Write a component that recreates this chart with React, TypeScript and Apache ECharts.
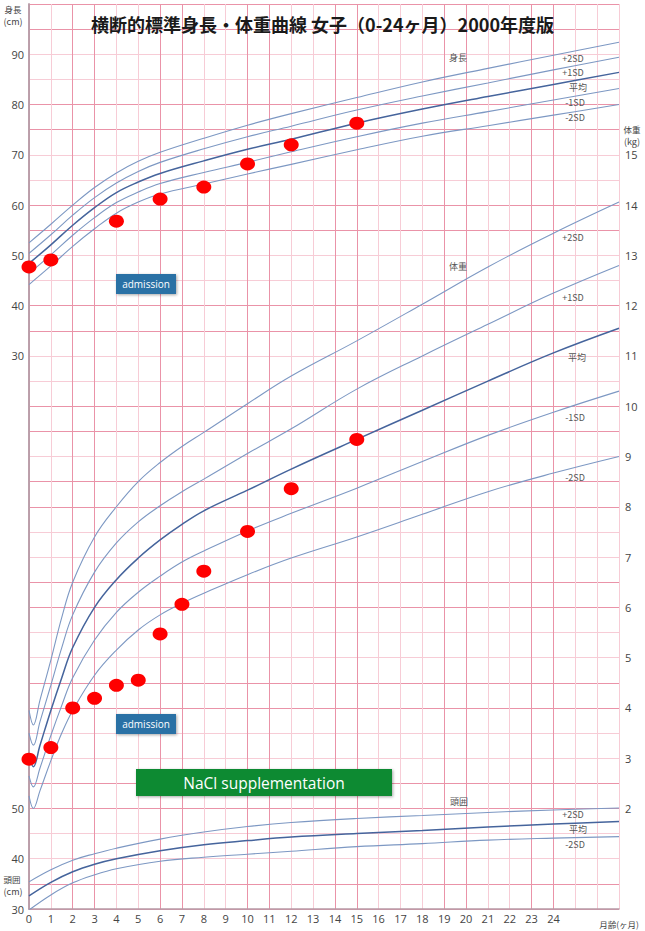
import React, { useEffect, useRef } from 'react';
import * as echarts from 'echarts';

// ---- data ----
const monthTicks = [0, 1, 2, 3, 4, 5, 6, 7, 8, 9, 10, 11, 12, 13, 14, 15, 16, 17, 18, 19, 20, 21, 22, 23, 24];

const heightMonths = [0, 1, 2, 3, 4, 5, 6, 8, 10, 12, 15, 18, 21, 24, 27];
const heightP2 = [52.5, 56.2, 60.0, 63.5, 66.4, 68.7, 70.5, 73.3, 75.9, 78.2, 81.4, 84.5, 87.2, 89.8, 92.4];
const heightP1 = [50.4, 54.1, 58.0, 61.5, 64.4, 66.7, 68.5, 71.2, 73.6, 75.7, 78.9, 81.7, 84.3, 86.9, 89.4];
const heightMean = [48.4, 52.1, 56.0, 59.5, 62.5, 64.6, 66.3, 68.8, 71.1, 73.1, 76.3, 79.1, 81.6, 84.0, 86.4];
const heightM1 = [46.4, 50.1, 54.0, 57.5, 60.5, 62.6, 64.3, 66.5, 68.5, 70.6, 73.6, 76.3, 78.6, 80.9, 83.2];
const heightM2 = [44.2, 47.9, 51.8, 55.3, 58.4, 60.6, 62.2, 64.2, 66.2, 68.1, 71.0, 73.7, 75.8, 77.9, 80.0];

const weightMonths = [0, 0.2, 0.5, 1, 1.5, 2, 3, 4, 5, 6, 7, 8, 10, 12, 15, 18, 21, 24, 27];
const weightP2 = [3.95, 3.66, 4.15, 4.95, 5.8, 6.5, 7.4, 8.0, 8.5, 8.88, 9.2, 9.48, 10.05, 10.6, 11.3, 12.03, 12.77, 13.44, 14.06];
const weightP1 = [3.5, 3.26, 3.72, 4.45, 5.2, 5.85, 6.7, 7.28, 7.7, 8.02, 8.3, 8.55, 9.06, 9.55, 10.34, 11.0, 11.63, 12.25, 12.8];
const weightMean = [3.05, 2.83, 3.25, 3.95, 4.6, 5.2, 6.0, 6.55, 6.98, 7.34, 7.65, 7.92, 8.33, 8.75, 9.34, 9.92, 10.5, 11.06, 11.55];
const weightM1 = [2.65, 2.43, 2.8, 3.45, 4.05, 4.6, 5.35, 5.9, 6.3, 6.62, 6.9, 7.12, 7.52, 7.87, 8.37, 8.9, 9.42, 9.88, 10.3];
const weightM2 = [2.25, 2.0, 2.35, 2.95, 3.5, 3.95, 4.65, 5.15, 5.55, 5.85, 6.08, 6.28, 6.65, 6.98, 7.4, 7.85, 8.3, 8.67, 9.0];

const headMonths = [0, 1, 2, 3, 4, 6, 8, 10, 12, 15, 18, 21, 24, 27];
const headP2 = [35.4, 37.8, 39.7, 41.0, 42.1, 43.9, 45.3, 46.4, 47.2, 48.0, 48.6, 49.2, 49.7, 50.1];
const headMean = [32.6, 35.3, 37.4, 38.9, 40.0, 41.6, 42.8, 43.6, 44.3, 45.0, 45.6, 46.3, 46.9, 47.4];
const headM2 = [29.8, 32.8, 35.2, 36.8, 38.0, 39.5, 40.3, 40.9, 41.5, 42.4, 43.0, 43.7, 44.1, 44.4];

const patientHeightMonths = [0, 1, 4, 6, 8, 10, 12, 15];
const patientHeight = [47.7, 49.1, 56.8, 61.2, 63.6, 68.2, 72.0, 76.3];
const patientWeightMonths = [0, 1, 2, 3, 4, 5, 6, 7, 8, 10, 12, 15];
const patientWeight = [2.98, 3.21, 4.0, 4.19, 4.45, 4.55, 5.47, 6.06, 6.72, 7.51, 8.36, 9.34];

const heightTickLabels = [30, 40, 50, 60, 70, 80, 90];
const weightTickLabels = [2, 3, 4, 5, 6, 7, 8, 9, 10, 11, 12, 13, 14, 15];
const headTickLabels = [30, 40, 50];

// ---- styles ----
const GRID_DARK = '#ea93a8';
const GRID_LIGHT = '#f7ccd6';
const CURVE = '#7d98c3';
const CURVE_MEAN = '#45649c';
const AXIS_LINE = '#b79aa6';
const JP = '"Noto Sans CJK JP", "Noto Sans", sans-serif';
const NUM = '"Open Sans", "Noto Sans", sans-serif';

const zip = (xs: number[], ys: number[]) => xs.map((x, i) => [x, ys[i]]);

const darkMonths = [2, 3, 6, 7, 10, 11, 14, 15, 19, 20, 23, 24];
const xLineColors: string[] = [];
for (let m = 0; m <= 27; m++) xLineColors.push(darkMonths.includes(m) ? GRID_DARK : GRID_LIGHT);
const yLineColors: string[] = [];
for (let k = 0; k <= 36; k++) {
  const r = k % 4;
  const dark = k <= 17 ? r === 0 || r === 1 : r === 3 || r === 0;
  yLineColors.push(dark ? GRID_DARK : GRID_LIGHT);
}

function curve(name: string, xs: number[], ys: number[], yAxisIndex: number, mean = false) {
  return {
    name,
    type: 'line',
    xAxisIndex: 0,
    yAxisIndex,
    data: zip(xs, ys),
    showSymbol: false,
    smooth: 0.4,
    silent: true,
    z: 3,
    lineStyle: { color: mean ? CURVE_MEAN : CURVE, width: mean ? 1.5 : 1.1 },
  };
}

function label(x: number, y: number, text: string, size = 9, color = '#555', font = JP, align = 'center') {
  return {
    type: 'text',
    x,
    y,
    z: 10,
    style: { text, fontSize: size, fontFamily: font, fill: color, align, verticalAlign: 'middle' },
  };
}

export default function App() {
  const ref = useRef<HTMLDivElement>(null);
  useEffect(() => {
    if (!ref.current) return;
    const chart = echarts.init(ref.current, undefined, { renderer: 'svg' });
    const option: any = {
      animation: false,
      backgroundColor: '#ffffff',
      title: {
        text: '横断的標準身長・体重曲線 女子（0-24ヶ月）2000年度版',
        left: 'center',
        top: 10,
        textStyle: { fontSize: 18, fontWeight: 'bold', fontFamily: JP, color: '#1a1a1a' },
      },
      grid: { left: 29, right: 26, top: 4, bottom: 22, containLabel: false },
      xAxis: {
        type: 'value',
        min: 0,
        max: 27,
        interval: 1,
        axisLine: { show: true, lineStyle: { color: AXIS_LINE, width: 1.5 } },
        axisTick: { show: false },
        axisLabel: {
          margin: 4,
          fontSize: 11,
          fontFamily: NUM,
          color: '#444',
          formatter: (v: number) => (monthTicks.includes(v) ? String(v) : ''),
        },
        splitLine: { show: true, lineStyle: { color: xLineColors, width: 1 } },
      },
      yAxis: [
        {
          type: 'value',
          position: 'right',
          min: 0,
          max: 18,
          interval: 1,
          axisLine: { show: true, lineStyle: { color: AXIS_LINE, width: 1.5 } },
          axisTick: { show: false },
          splitLine: { show: false },
          axisLabel: {
            margin: 6,
            fontSize: 11,
            fontFamily: NUM,
            color: '#444',
            formatter: (v: number) => (weightTickLabels.includes(v) ? String(v) : ''),
          },
        },
        {
          type: 'value',
          position: 'left',
          min: -80,
          max: 100,
          interval: 10,
          axisLine: { show: true, lineStyle: { color: AXIS_LINE, width: 1.5 } },
          axisTick: { show: false },
          splitLine: { show: false },
          axisLabel: {
            margin: 5,
            fontSize: 11,
            fontFamily: NUM,
            color: '#444',
            formatter: (v: number) => (heightTickLabels.includes(v) ? String(v) : ''),
          },
        },
        {
          type: 'value',
          position: 'left',
          min: 30,
          max: 210,
          interval: 10,
          axisLine: { show: false },
          axisTick: { show: false },
          splitLine: { show: false },
          axisLabel: {
            margin: 5,
            fontSize: 11,
            fontFamily: NUM,
            color: '#444',
            formatter: (v: number) => (headTickLabels.includes(v) ? String(v) : ''),
          },
        },
        {
          type: 'value',
          position: 'left',
          min: 0,
          max: 18,
          interval: 0.5,
          axisLine: { show: false },
          axisTick: { show: false },
          axisLabel: { show: false },
          splitLine: { show: true, lineStyle: { color: yLineColors, width: 1 } },
        },
      ],
      series: [
        curve('身長 +2SD', heightMonths, heightP2, 1),
        curve('身長 +1SD', heightMonths, heightP1, 1),
        curve('身長 平均', heightMonths, heightMean, 1, true),
        curve('身長 -1SD', heightMonths, heightM1, 1),
        curve('身長 -2SD', heightMonths, heightM2, 1),
        curve('体重 +2SD', weightMonths, weightP2, 0),
        curve('体重 +1SD', weightMonths, weightP1, 0),
        curve('体重 平均', weightMonths, weightMean, 0, true),
        curve('体重 -1SD', weightMonths, weightM1, 0),
        curve('体重 -2SD', weightMonths, weightM2, 0),
        curve('頭囲 +2SD', headMonths, headP2, 2),
        curve('頭囲 平均', headMonths, headMean, 2, true),
        curve('頭囲 -2SD', headMonths, headM2, 2),
        {
          name: 'patient height',
          type: 'scatter',
          xAxisIndex: 0,
          yAxisIndex: 1,
          data: zip(patientHeightMonths, patientHeight),
          symbol: 'circle',
          symbolSize: [15, 13],
          itemStyle: { color: '#ff0000', opacity: 1 },
          z: 5,
        },
        {
          name: 'patient weight',
          type: 'scatter',
          xAxisIndex: 0,
          yAxisIndex: 0,
          data: zip(patientWeightMonths, patientWeight),
          symbol: 'circle',
          symbolSize: [15, 13],
          itemStyle: { color: '#ff0000', opacity: 1 },
          z: 5,
        },
      ],
      graphic: [
        label(13, 9, '身長', 8.5, '#444'),
        label(13, 21, '(cm)', 9, '#444'),
        label(632, 129, '体重', 8.5, '#444'),
        label(632, 141, '(kg)', 9, '#444'),
        label(12, 879, '頭囲', 8.5, '#444'),
        label(13, 891, '(cm)', 9, '#444'),
        label(619, 924, '月齢(ヶ月)', 8.5, '#444'),
        label(458, 57, '身長'),
        label(573, 58, '+2SD'),
        label(573, 72, '+1SD'),
        label(578, 87, '平均'),
        label(575, 102, '-1SD'),
        label(575, 117, '-2SD'),
        label(458, 266, '体重'),
        label(573, 237, '+2SD'),
        label(573, 297, '+1SD'),
        label(577, 357, '平均'),
        label(575, 417, '-1SD'),
        label(575, 477, '-2SD'),
        label(459, 801, '頭囲'),
        label(573, 814, '+2SD'),
        label(578, 829, '平均'),
        label(575, 844, '-2SD'),
        {
          type: 'rect',
          z: 20,
          shape: { x: 116, y: 274, width: 60, height: 20 },
          style: { fill: '#2c71a5', shadowBlur: 3, shadowOffsetX: 1, shadowOffsetY: 1, shadowColor: 'rgba(0,0,0,0.35)' },
        },
        { ...label(146, 284, 'admission', 10, '#ffffff', NUM), z: 21 },
        {
          type: 'rect',
          z: 20,
          shape: { x: 116, y: 714, width: 60, height: 20 },
          style: { fill: '#2c71a5', shadowBlur: 3, shadowOffsetX: 1, shadowOffsetY: 1, shadowColor: 'rgba(0,0,0,0.35)' },
        },
        { ...label(146, 724, 'admission', 10, '#ffffff', NUM), z: 21 },
        {
          type: 'rect',
          z: 20,
          shape: { x: 136, y: 769, width: 256, height: 27 },
          style: { fill: '#0f8a31', shadowBlur: 3, shadowOffsetX: 1, shadowOffsetY: 1, shadowColor: 'rgba(0,0,0,0.35)' },
        },
        { ...label(264, 783, 'NaCl supplementation', 15.5, '#ffffff', NUM), z: 21 },
      ],
    };
    chart.setOption(option);
    return () => chart.dispose();
  }, []);
  return <div ref={ref} style={{ position: 'fixed', left: 0, top: 0, width: 645, height: 931 }} />;
}
